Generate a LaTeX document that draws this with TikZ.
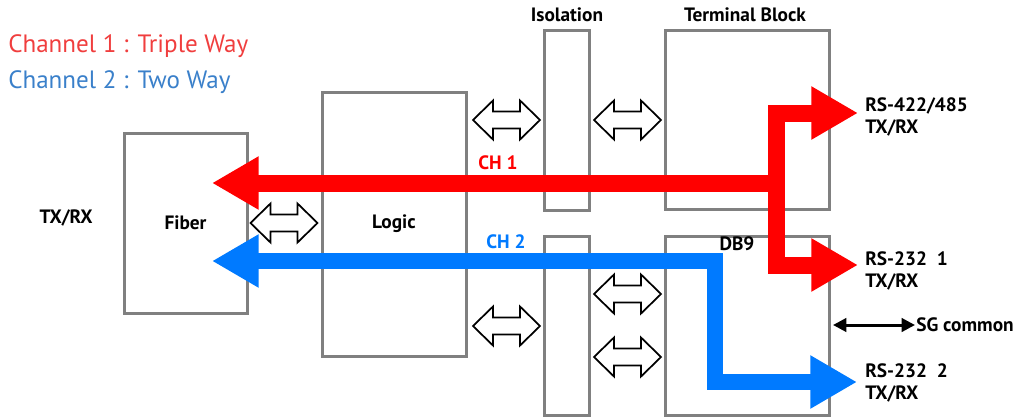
\documentclass[tikz,border=0pt]{standalone}
\usepackage{xcolor}
\usepackage{fontspec}
\setmainfont{PT Sans}
\usepackage{tikz}
\usetikzlibrary{arrows.meta}

\definecolor{chred}{RGB}{255,0,0}
\definecolor{chblue}{RGB}{0,122,255}
\definecolor{lblred}{RGB}{240,62,62}
\definecolor{lblblue}{RGB}{58,128,202}
\definecolor{boxgray}{RGB}{128,128,128}

\tikzset{
  blk/.style={draw=boxgray,line width=2.25pt,inner sep=0pt,font=\bfseries\fontsize{14.5}{16}\selectfont},
  lbl/.style={inner sep=0.75pt,font=\bfseries\fontsize{14.5}{16}\selectfont},
  dblarr/.pic={
    \draw[black,fill=white,line width=1.3pt,line join=miter]
      (-33.5,0) -- (-13.5,-19.5) -- (-13.5,-8.5) -- (13.5,-8.5) -- (13.5,-19.5) -- (33.5,0)
      -- (13.5,19.5) -- (13.5,8.5) -- (-13.5,8.5) -- (-13.5,19.5) -- cycle;
  },
  chone/.style={draw=chred,line width=12.75pt},
  chtwo/.style={draw=chblue,line width=12.5pt},
  bighead/.tip={Triangle[length=35pt,width=37.5pt]}
}

\begin{document}
\begin{tikzpicture}[x=0.75pt,y=0.75pt,yscale=-1,xscale=1]
        \useasboundingbox (0,0) rectangle (1025,419);

        \node[blk,minimum width=92.25pt,minimum height=135pt] (fiber) at (185.5,223) {Fiber};
        \node[blk,minimum width=108pt,minimum height=198pt] (logic) at (394,224) {Logic};
        \node[blk,minimum width=33.75pt,minimum height=135pt] (isoup) at (566.5,120) {};
        \node[blk,minimum width=33.75pt,minimum height=134.25pt] (isodn) at (566.5,325.5) {};
        \node[blk,minimum width=123pt,minimum height=134.25pt] (term) at (747,119.5) {};
        \node[blk,minimum width=123pt,minimum height=134.25pt] (db) at (747,325.5) {};

        \pic (fl) at (284,223) {dblarr};
        \pic (liu) at (506.5,120) {dblarr};
        \pic (iut) at (627.5,120) {dblarr};
        \pic (lid) at (506.5,326) {dblarr};
        \pic (idda) at (627.5,294) {dblarr};
        \pic (iddb) at (627.5,357) {dblarr};

        \coordinate (rfib) at (212,183);
        \coordinate (rj) at (776,183);
        \coordinate (rsa) at (858,113);
        \coordinate (rsb) at (858,265);
        \draw[chone,bighead-bighead] (rfib) -- (rj) |- (rsa);
        \draw[chone,-bighead] (rj) |- (rsb);

        \coordinate (bfib) at (212,261);
        \coordinate (bj) at (715,261);
        \coordinate (bk) at (715,382);
        \coordinate (rsc) at (857,382);
        \draw[chtwo,bighead-bighead] (bfib) -- (bj) -- (bk) -- (rsc);

        \node[anchor=west,inner sep=0pt,text=lblred,font=\fontsize{18.8}{22}\selectfont] (chonetxt) at (8,46) {Channel 1 : Triple Way};
        \node[anchor=west,inner sep=0pt,text=lblblue,font=\fontsize{18.8}{22}\selectfont] (chtwotxt) at (8,82) {Channel 2 : Two Way};

        \node[lbl] (isotxt) at (567,15) {Isolation};
        \node[lbl] (termtxt) at (745,15) {Terminal Block};
        \node[lbl] (dbtxt) at (737,244) {DB9};
        \node[lbl] (txrx) at (66,218) {TX/RX};
        \node[lbl,text=chred] (ch1) at (498,163) {CH 1};
        \node[lbl,text=chblue] (ch2) at (506,242) {CH 2};

        \node[lbl,anchor=west,align=left] (rs422) at (864,117) {RS-422/485\\TX/RX};
        \node[lbl,anchor=west,align=left] (rs2321) at (864,271) {RS-232\ \ 1\\TX/RX};
        \node[lbl,anchor=west,align=left] (rs2322) at (864,383) {RS-232\ \ 2\\TX/RX};

        \node[lbl,anchor=west] (sg) at (915,325) {SG common};
        \coordinate (sgl) at (833,325);
        \draw[line width=2.25pt,{Triangle[length=10pt,width=10pt]}-{Triangle[length=10pt,width=10pt]}] (sgl) -- (sg.west);
    \end{tikzpicture}
\end{document}
